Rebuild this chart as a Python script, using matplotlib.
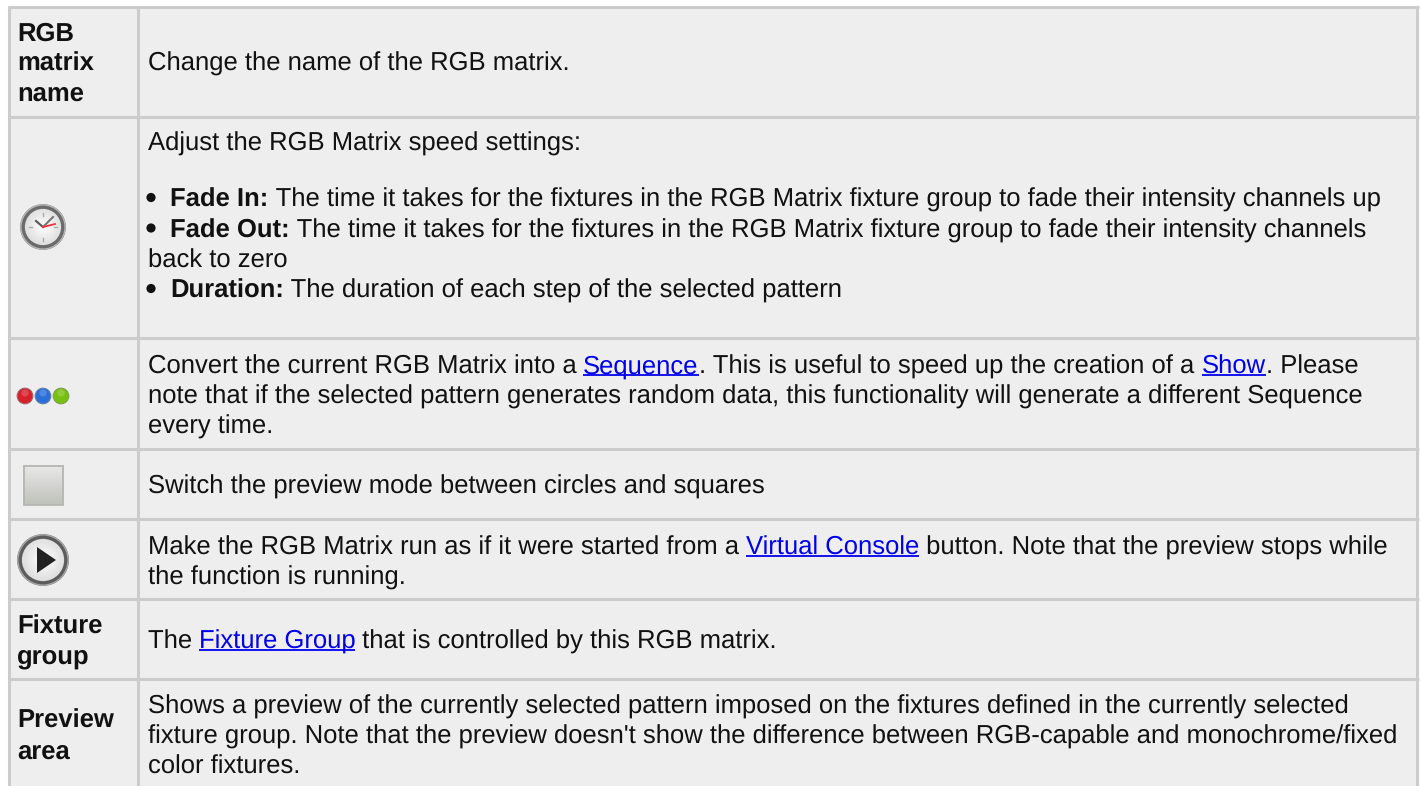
import matplotlib
matplotlib.use('Agg')
import numpy as np
import matplotlib.pyplot as plt
from matplotlib.patches import Circle, Rectangle, Polygon

# Table content: (y baseline, x, [(text, style), ...]) per line
# style: n = normal, b = bold, a = link
W, H = 1420, 786
FS = 18.42
BG = '#eeeeee'
GRID = '#cccccc'
INK = '#111111'
LINK = '#0000ee'

h_lines = [7, 117, 338, 449, 519, 599, 679]
col_lines = [9, 137.5, 1417]

head_lines = [
    ('RGB', 40), ('matrix', 70), ('name', 100),
    ('Fixture', 633), ('group', 663),
    ('Preview', 727), ('area', 758),
]

body_lines = [
    (70, 147.5, [('Change the name of the RGB matrix.', 'n')]),
    (150, 147.5, [('Adjust the RGB Matrix speed settings:', 'n')]),
    (206, 170.5, [('Fade In:', 'b'), (' The time it takes for the fixtures in the RGB Matrix fixture group to fade their intensity channels up', 'n')]),
    (237, 170.5, [('Fade Out:', 'b'), (' The time it takes for the fixtures in the RGB Matrix fixture group to fade their intensity channels', 'n')]),
    (267, 147.5, [('back to zero', 'n')]),
    (297, 170.5, [('Duration:', 'b'), (' The duration of each step of the selected pattern', 'n')]),
    (373, 147.5, [('Convert the current RGB Matrix into a ', 'n'), ('Sequence', 'a'), ('. This is useful to speed up the creation of a ', 'n'), ('Show', 'a'), ('. Please', 'n')]),
    (403, 147.5, [('note that if the selected pattern generates random data, this functionality will generate a different Sequence', 'n')]),
    (433, 147.5, [('every time.', 'n')]),
    (493, 147.5, [('Switch the preview mode between circles and squares', 'n')]),
    (554, 147.5, [('Make the RGB Matrix run as if it were started from a ', 'n'), ('Virtual Console', 'a'), (' button. Note that the preview stops while', 'n')]),
    (584, 147.5, [('the function is running.', 'n')]),
    (648, 147.5, [('The ', 'n'), ('Fixture Group', 'a'), (' that is controlled by this RGB matrix.', 'n')]),
    (713, 147.5, [('Shows a preview of the currently selected pattern imposed on the fixtures defined in the currently selected', 'n')]),
    (743, 147.5, [("fixture group. Note that the preview doesn't show the difference between RGB-capable and monochrome/fixed", 'n')]),
    (773, 147.5, [('color fixtures.', 'n')]),
]

bullet_ys = [197.5, 228, 288.5]

plt.rcParams['font.family'] = ['Liberation Sans', 'DejaVu Sans']
plt.rcParams['text.hinting'] = 'no_hinting'
fig = plt.figure(figsize=(W / 100, H / 100), dpi=100, facecolor='white')
ax = fig.add_axes([0, 0, 1, 1])
ax.set_xlim(0, W)
ax.set_ylim(H, 0)
ax.axis('off')

# table background and grid
ax.add_patch(Rectangle((col_lines[0], h_lines[0]), col_lines[2] - col_lines[0], H - h_lines[0], fc=BG, ec='none'))
for y in h_lines:
    ax.plot([col_lines[0] - 1.5, col_lines[2] + 1.5], [y, y], color=GRID, lw=2.2, solid_capstyle='butt')
for x in col_lines:
    ax.plot([x, x], [h_lines[0] - 1, H], color=GRID, lw=2.2, solid_capstyle='butt')

r = fig.canvas.get_renderer()


def run_text(x, y, parts):
    for s, st in parts:
        t = ax.text(x, y + 0.4, s, fontsize=FS, va='baseline', ha='left',
                    color=LINK if st == 'a' else INK,
                    fontweight='bold' if st == 'b' else 'normal')
        # non-breaking spaces so the trailing ones are measured
        w, _, _ = r.get_text_width_height_descent(s.replace(' ', '\u00a0'), t.get_fontproperties(), False)
        if st == 'a':
            ax.plot([x, x + w], [y + 2, y + 2], color=LINK, lw=1.3, solid_capstyle='butt')
        x += w


for s, y in head_lines:
    ax.text(17, y + 0.4, s, fontsize=FS, fontweight='bold', va='baseline', color=INK)
for y, x, parts in body_lines:
    run_text(x, y, parts)
for y in bullet_ys:
    ax.add_patch(Circle((151, y), 4.6, fc=INK, ec='none'))


def radial(cx, cy, rad, inner, outer, zorder=3):
    # shaded disc: imshow of the distance from the centre, clipped to a circle
    n = 80
    yy, xx = np.mgrid[-1:1:n * 1j, -1:1:n * 1j]
    d = np.clip(np.hypot(xx, yy), 0, 1)[..., None]
    arr = np.array(inner) * (1 - d) + np.array(outer) * d
    im = ax.imshow(arr, extent=(cx - rad, cx + rad, cy + rad, cy - rad), aspect='auto', zorder=zorder, interpolation='bilinear')
    im.set_clip_path(Circle((cx, cy), rad, transform=ax.transData))
    ax.set_xlim(0, W)
    ax.set_ylim(H, 0)


def ring(cx, cy, rad, dark=0.36):
    radial(cx, cy, rad, (1, 1, 1), (0.86, 0.86, 0.86))
    ax.add_patch(Circle((cx, cy), rad, fc='none', ec=(dark, dark, dark), lw=3.4, zorder=4))
    ax.add_patch(Circle((cx, cy), rad + 1.6, fc='none', ec=(dark + 0.3,) * 3, lw=1.0, zorder=4))


# clock icon
ring(43, 227, 20.5, dark=0.42)
for dx, dy in [(0, -14), (0, 14), (-14, 0), (14, 0)]:
    ax.plot([43 + dx * 0.8, 43 + dx], [227 + dy * 0.8, 227 + dy], color='#aaaaaa', lw=1, zorder=5)
ax.plot([43, 36], [227, 221], color='#555555', lw=1.5, zorder=5)
ax.plot([43, 53], [227, 217], color='#777777', lw=1.5, zorder=5)
ax.plot([43, 55], [227, 224], color='#f0303a', lw=1.3, zorder=6)

# three dots icon
for x, col, ec in [(25, '#d8202c', '#a06060'), (43, '#2a6fd8', '#6080a8'), (61, '#78c010', '#80a050')]:
    ax.add_patch(Circle((x, 396), 7.8, fc=col, ec=ec, lw=0.8, zorder=4))
    ax.add_patch(Circle((x, 393), 3.6, fc='white', ec='none', alpha=0.18, zorder=5))

# square icon
g = np.linspace(0, 1, 64)[:, None, None]
arr = np.array((0.91, 0.91, 0.91)) * (1 - g) + np.array((0.75, 0.76, 0.73)) * g
ax.imshow(arr, extent=(24, 63, 505, 466), aspect='auto', zorder=3, interpolation='bilinear')
ax.set_xlim(0, W)
ax.set_ylim(H, 0)
ax.add_patch(Rectangle((24, 466), 39, 39, fc='none', ec='#b4b6b2', lw=1.3, zorder=5))

# play icon
ring(43, 560, 23.5)
ax.add_patch(Polygon([(37, 547), (56, 560), (37, 573)], fc='#222222', ec='none', zorder=5))

fig.savefig('out.png', dpi=100)
